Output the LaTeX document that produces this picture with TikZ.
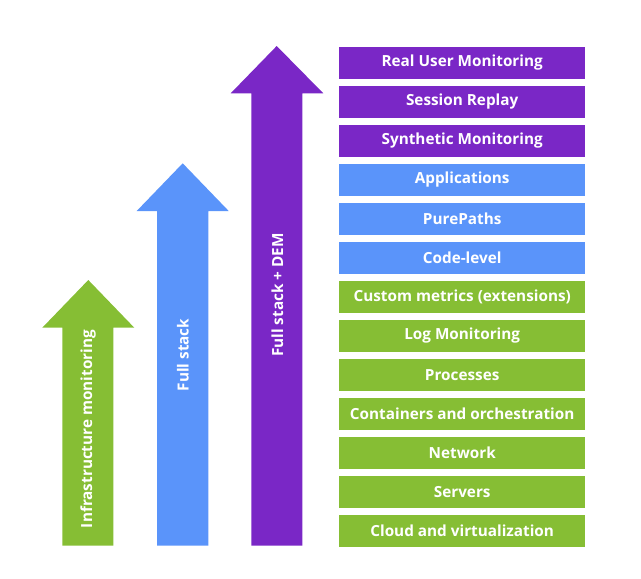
\documentclass[tikz,border=0pt]{standalone}
\usepackage{fontspec}
\setmainfont{Open Sans}
\definecolor{dtpurple}{HTML}{7A27C6}
\definecolor{dtblue}{HTML}{5A94FA}
\definecolor{dtgreen}{HTML}{86BE34}
\begin{document}
\begin{tikzpicture}[x=1pt,y=-1pt,
  layer/.style={minimum width=246pt,minimum height=31.6pt,inner sep=0pt,anchor=north west,text=white,font=\bfseries\fontsize{15.3}{17}\selectfont},
  arrowlabel/.style={rotate=90,text=white,inner sep=0pt,font=\bfseries\fontsize{15.3}{17}\selectfont}]
\useasboundingbox (0,0) rectangle (641,579);
% arrows
\fill[dtgreen] (62.3,545.5) -- (62.3,327.7) -- (42.3,327.7) -- (88.3,280) -- (134.3,327.7) -- (113.3,327.7) -- (113.3,545.5) -- cycle;
\fill[dtblue] (157,545.5) -- (157,211) -- (136.7,211) -- (182.7,163.3) -- (228.7,211) -- (208.3,211) -- (208.3,545.5) -- cycle;
\fill[dtpurple] (251.3,545.5) -- (251.3,93.3) -- (230.7,93.3) -- (276.7,46) -- (323.3,93.3) -- (302.3,93.3) -- (302.3,545.5) -- cycle;
\node[arrowlabel] (infra) at (88,429) {Infrastructure monitoring};
\node[arrowlabel] (full) at (183,355) {Full stack};
\node[arrowlabel] (dem) at (277.5,295) {Full stack + DEM};
% layers
\foreach \t/\c [count=\i from 0] in {Real User Monitoring/dtpurple,Session Replay/dtpurple,Synthetic Monitoring/dtpurple,Applications/dtblue,PurePaths/dtblue,Code-level/dtblue,Custom metrics (extensions)/dtgreen,Log Monitoring/dtgreen,Processes/dtgreen,Containers and orchestration/dtgreen,Network/dtgreen,Servers/dtgreen,Cloud and virtualization/dtgreen}
  \node[layer,fill=\c] (l\i) at (339,46.7+39*\i) {\t};
\end{tikzpicture}
\end{document}
